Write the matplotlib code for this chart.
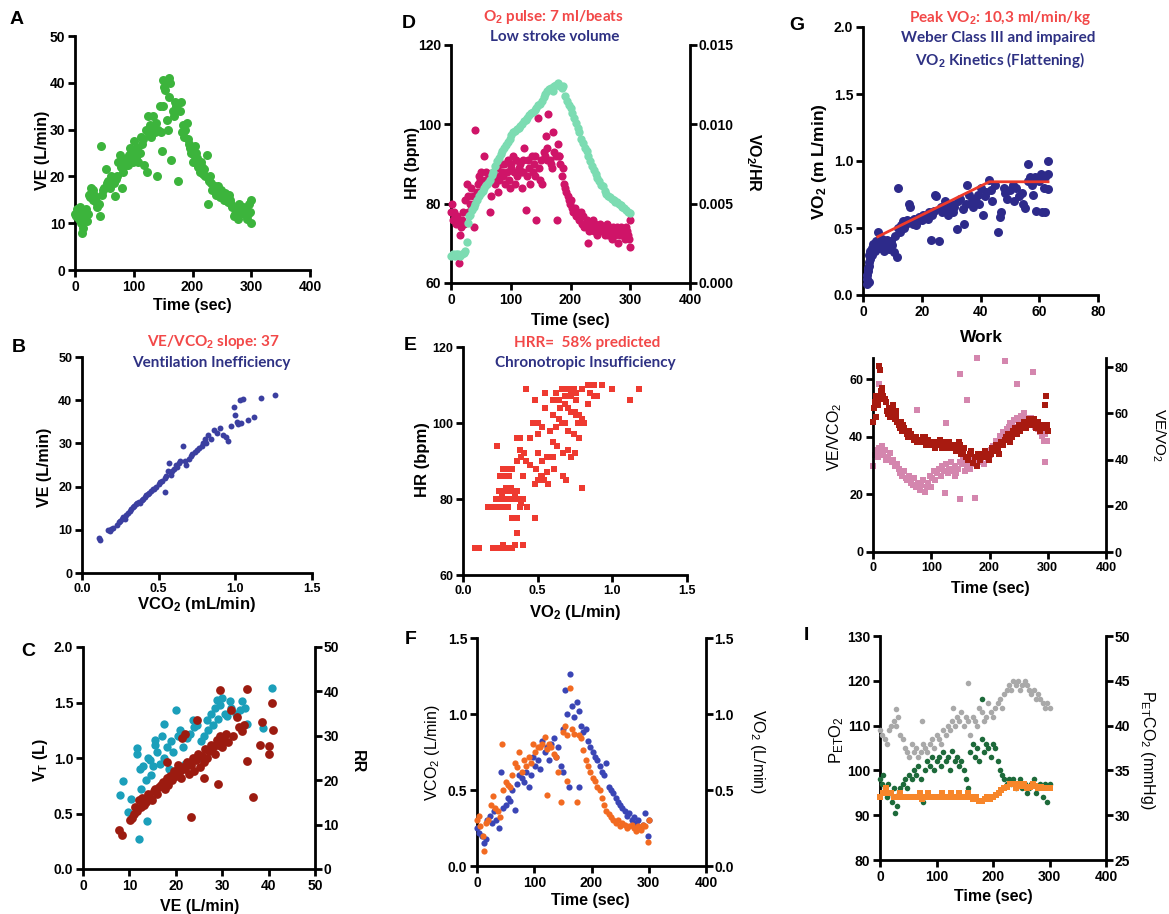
import matplotlib
matplotlib.use('Agg')
import matplotlib.pyplot as plt

# ---------------- DATA ----------------
# Panel A : VE vs time
A_time = [0, 2, 3, 5, 6, 8, 9, 11, 12, 13,
          14, 15, 17, 18, 20, 22, 24, 25, 27, 28,
          30, 31, 33, 35, 36, 38, 40, 42, 44, 46,
          48, 50, 52, 54, 56, 58, 60, 62, 64, 66,
          68, 70, 72, 74, 76, 78, 80, 82, 84, 86,
          88, 90, 92, 94, 96, 98, 100, 102, 104, 106,
          108, 110, 112, 114, 116, 118, 120, 122, 124, 126,
          128, 130, 132, 134, 136, 138, 140, 142, 144, 146,
          148, 150, 152, 154, 156, 158, 160, 162, 164, 166,
          168, 170, 172, 174, 176, 178, 180, 182, 184, 186,
          188, 190, 192, 194, 196, 198, 200, 202, 204, 206,
          208, 210, 212, 214, 216, 218, 220, 222, 224, 226,
          228, 230, 232, 234, 236, 238, 240, 242, 244, 246,
          248, 250, 252, 254, 256, 258, 260, 262, 264, 266,
          268, 270, 272, 274, 276, 278, 280, 282, 284, 286,
          288, 290, 292, 294, 296, 298, 300, 300, 150, 160]
A_ve = [12, 11.5, 13, 12, 11, 12.5, 13.5, 10, 8, 9,
        11.5, 12.5, 12, 13, 10.5, 12, 16, 15.5, 17.5, 16.5,
        15, 17, 16, 14.5, 15.5, 13.5, 14, 11.5, 26.5, 16,
        17, 17.5, 21.5, 18.5, 19, 18, 17.5, 20, 19, 18.5,
        15.8, 19.5, 20, 23, 24.5, 22, 17.5, 21, 23.5, 22.5,
        24, 22.5, 24.5, 26, 25, 23, 27.5, 25.5, 24, 26,
        23, 25, 28.5, 27, 28, 22.5, 30, 21, 33, 29,
        31, 28.5, 33, 30, 29.5, 31.5, 20, 30, 35, 29.5,
        25.5, 40.5, 39, 38.5, 32, 30, 41, 40, 23.5, 34,
        33, 36, 35, 35.5, 19, 34, 36, 29.5, 31, 28.5,
        30, 31.5, 28, 27, 26, 25, 23, 24.5, 26.5, 25,
        24, 22, 21, 23, 22, 20.5, 21.5, 20, 24.5, 14,
        19, 20, 18.5, 17, 17.5, 18, 16, 16.5, 18, 15.5,
        17, 16.5, 16, 15, 16.5, 15.5, 14.5, 16, 15, 14,
        13.5, 11.5, 12, 13, 12.5, 11, 14, 13, 12.5, 13.5,
        12, 13, 11, 12, 14, 12.5, 10, 15, 35, 37]

# Panel D : HR and O2 pulse vs time
D_time = [0, 2, 4, 5, 7, 9, 10, 12, 13, 15,
          17, 19, 20, 22, 24, 26, 28, 29, 31, 33,
          35, 37, 39, 41, 43, 45, 47, 49, 51, 53,
          55, 57, 59, 61, 63, 65, 67, 69, 71, 73,
          75, 77, 79, 81, 83, 85, 87, 89, 91, 93,
          95, 97, 99, 101, 103, 105, 107, 109, 111, 113,
          115, 117, 119, 121, 123, 125, 127, 129, 131, 133,
          135, 137, 139, 141, 143, 145, 147, 149, 151, 153,
          155, 157, 159, 161, 163, 165, 167, 169, 171, 173,
          175, 177, 179, 181, 183, 185, 187, 189, 191, 193,
          195, 197, 199, 201, 203, 205, 207, 209, 211, 213,
          215, 217, 219, 221, 223, 225, 227, 229, 231, 233,
          235, 237, 239, 241, 243, 245, 247, 249, 251, 253,
          255, 257, 259, 261, 263, 265, 267, 269, 271, 273,
          275, 277, 279, 281, 283, 285, 287, 289, 291, 293,
          295, 297, 299, 300, 298, 100, 120, 140, 160, 180]
D_hr = [78, 80, 76, 78, 77, 75, 77, 76, 65, 72,
        74, 76, 78, 75, 81, 85, 82, 78, 80, 84,
        79, 82, 74, 98.5, 83, 85, 87, 86, 88, 84,
        92, 86, 88, 85, 87, 78, 82, 86, 88, 85,
        87, 89, 83, 86, 90, 88, 87, 90, 85, 88,
        91, 86, 84, 89, 92, 88, 85, 91, 87, 89,
        90, 88, 84, 91, 94, 78.5, 87, 91, 89, 85,
        92, 88, 90, 87, 75.8, 101.5, 89, 86, 91, 85,
        93, 92, 97, 94, 102.5, 91, 90, 89, 98, 93,
        92, 75.8, 95, 92, 90, 87, 89, 85, 84, 83,
        82, 81, 80, 81, 79, 78, 79, 77, 78, 77,
        76, 78, 75, 77, 74, 75, 76, 70, 73, 75,
        74, 76, 73, 75, 74, 72, 73, 75, 74, 73,
        74, 72, 73, 75, 72, 74, 73, 71, 74, 73,
        72, 74, 70, 73, 72, 74, 73, 72, 71, 74,
        73, 72, 76, 69, 71, 90, 88, 92, 91, 92]
D2_time = [0, 3, 6, 9, 12, 15, 18, 21, 24, 26,
           28, 30, 32, 35, 38, 41, 44, 47, 50, 53,
           56, 59, 62, 65, 68, 71, 74, 77, 80, 83,
           86, 89, 92, 95, 98, 101, 104, 107, 110, 113,
           116, 119, 122, 125, 128, 131, 134, 137, 140, 143,
           146, 149, 152, 155, 158, 161, 164, 167, 170, 173,
           176, 179, 182, 185, 188, 191, 194, 197, 200, 203,
           206, 209, 212, 215, 218, 221, 224, 227, 230, 233,
           236, 239, 242, 245, 248, 251, 254, 257, 260, 263,
           266, 269, 272, 275, 278, 281, 284, 287, 290, 293,
           296, 299]
D2_pulse = [0.0017, 0.0018, 0.0017, 0.0018, 0.0018, 0.0017, 0.0018, 0.0019, 0.0020, 0.0026,
            0.0038, 0.0042, 0.0043, 0.0046, 0.0048, 0.0050, 0.0052, 0.0055, 0.0057, 0.0058,
            0.0060, 0.0062, 0.0063, 0.0065, 0.0068, 0.0070, 0.0074, 0.0077, 0.0079, 0.0081,
            0.0083, 0.0085, 0.0087, 0.0089, 0.0091, 0.0093, 0.0095, 0.0096, 0.0097, 0.0098,
            0.0099, 0.0100, 0.0102, 0.0103, 0.0104, 0.0106, 0.0107, 0.0108, 0.0109, 0.0110,
            0.0112, 0.0113, 0.0115, 0.0117, 0.0119, 0.0121, 0.0122, 0.0123, 0.0121, 0.0124,
            0.0125, 0.0126, 0.0124, 0.0123, 0.0124, 0.0118, 0.0115, 0.0112, 0.0110, 0.0107,
            0.0104, 0.0101, 0.0098, 0.0095, 0.0091, 0.0088, 0.0085, 0.0083, 0.0080, 0.0077,
            0.0074, 0.0071, 0.0069, 0.0066, 0.0064, 0.0062, 0.0061, 0.0058, 0.0056, 0.0055,
            0.0054, 0.0053, 0.0052, 0.0051, 0.0051, 0.0050, 0.0049, 0.0048, 0.0047, 0.0046,
            0.0045, 0.0044]

# Panel G : VO2 vs work
G_work = [1.5, 1.5, 1.8, 2, 2, 2.2, 2.5, 2.5, 3, 3,
          3.5, 4, 4, 4.5, 5, 5, 5.5, 6, 6.5, 7,
          7, 7.5, 8, 8.5, 9, 9.5, 10, 10.5, 11, 11.5,
          12, 12, 12.5, 13, 13.5, 14, 14.5, 15, 15.5, 16,
          16.5, 17, 17.5, 18, 18.5, 19, 20, 20.5, 21, 22,
          22.5, 23, 23.5, 24, 24.5, 25, 26, 26.5, 27, 28,
          28.5, 29, 30, 30.5, 31, 32, 32.5, 33, 34, 34.5,
          35, 35.5, 36, 37, 37.5, 38, 39, 39.5, 40, 41,
          41.5, 42, 43, 43.5, 44, 45, 46, 46.5, 47, 48,
          48.5, 49, 50, 51, 51.5, 52, 53, 54, 54.5, 55,
          56, 56, 57, 57.5, 58, 58.5, 59, 60, 60.5, 61,
          61.5, 62, 62, 63, 63, 63, 1.5, 2, 2.5, 1.8]
G_vo2 = [0.08, 0.12, 0.2, 0.25, 0.3, 0.22, 0.33, 0.27, 0.35, 0.3,
         0.38, 0.36, 0.33, 0.4, 0.47, 0.37, 0.35, 0.39, 0.42, 0.36,
         0.33, 0.38, 0.41, 0.36, 0.34, 0.4, 0.37, 0.32, 0.44, 0.28,
         0.8, 0.5, 0.47, 0.52, 0.55, 0.5, 0.53, 0.56, 0.68, 0.66,
         0.55, 0.53, 0.57, 0.52, 0.55, 0.58, 0.56, 0.6, 0.58, 0.57,
         0.62, 0.41, 0.6, 0.63, 0.75, 0.74, 0.4, 0.66, 0.62, 0.7,
         0.64, 0.6, 0.68, 0.62, 0.66, 0.49, 0.7, 0.72, 0.64, 0.53,
         0.68, 0.82, 0.75, 0.7, 0.66, 0.72, 0.75, 0.68, 0.8, 0.6,
         0.74, 0.77, 0.86, 0.78, 0.7, 0.82, 0.47, 0.58, 0.62, 0.8,
         0.76, 0.72, 0.78, 0.82, 0.7, 0.8, 0.74, 0.76, 0.68, 0.65,
         0.98, 0.85, 0.88, 0.82, 0.75, 0.88, 0.63, 0.85, 0.9, 0.62,
         0.8, 0.88, 0.62, 0.9, 0.79, 1.0, 0.15, 0.1, 0.3, 0.18]
G_fit_work = [5, 43, 63]
G_fit_vo2 = [0.435, 0.845, 0.845]

# Panel B : VE vs VCO2
B_vco2 = [0.11, 0.12, 0.17, 0.18, 0.19, 0.2, 0.23, 0.24, 0.25, 0.26,
          0.27, 0.28, 0.29, 0.3, 0.31, 0.32, 0.33, 0.34, 0.35, 0.36,
          0.37, 0.38, 0.39, 0.4, 0.41, 0.42, 0.43, 0.44, 0.45, 0.46,
          0.47, 0.48, 0.5, 0.51, 0.52, 0.54, 0.55, 0.56, 0.57, 0.58,
          0.59, 0.6, 0.61, 0.62, 0.63, 0.64, 0.66, 0.67, 0.68, 0.7,
          0.71, 0.72, 0.74, 0.75, 0.76, 0.78, 0.79, 0.8, 0.81, 0.82,
          0.84, 0.86, 0.88, 0.9, 0.92, 0.94, 0.95, 0.97, 0.99, 1.0,
          1.01, 1.02, 1.03, 1.04, 1.05, 1.08, 1.12, 1.17, 1.26, 0.54]
B_ve = [8.1, 7.6, 10, 9.8, 10.3, 10.5, 11, 11.8, 12, 12.5,
        13, 12.6, 13.5, 14, 14.3, 14.8, 15.2, 15.5, 16, 16.3,
        16.5, 16.2, 17, 17.2, 17.5, 18, 18.3, 18.6, 19, 19.4,
        19.5, 20, 20.5, 21, 21.3, 22, 22.5, 23.5, 25.5, 22.8,
        23.5, 24, 25, 24.5, 25.5, 26, 29.3, 26, 25, 26.5,
        27, 27.5, 28, 28.5, 29, 29.5, 30, 31, 30, 32,
        31, 33, 32.5, 33.5, 32, 31.5, 30.5, 34, 38.5, 36.5,
        35, 34.5, 40, 34.8, 40.2, 35.5, 36.2, 40.6, 41.1, 18.8]

# Panel E : HR vs VO2
E_vo2 = [0.08, 0.11, 0.2, 0.22, 0.25, 0.28, 0.3, 0.33, 0.27, 0.35,
         0.4, 0.36, 0.33, 0.36, 0.48, 0.17, 0.2, 0.23, 0.26, 0.3,
         0.38, 0.43, 0.22, 0.25, 0.28, 0.31, 0.34, 0.37, 0.4, 0.24,
         0.27, 0.3, 0.33, 0.36, 0.29, 0.32, 0.26, 0.35, 0.39, 0.8,
         0.25, 0.28, 0.31, 0.27, 0.3, 0.33, 0.4, 0.48, 0.5, 0.52,
         0.54, 0.56, 0.49, 0.53, 0.57, 0.61, 0.67, 0.69, 0.36, 0.39,
         0.41, 0.45, 0.38, 0.42, 0.5, 0.53, 0.56, 0.6, 0.23, 0.36,
         0.38, 0.45, 0.5, 0.6, 0.63, 0.67, 0.7, 0.72, 0.78, 0.75,
         0.47, 0.5, 0.53, 0.58, 0.62, 0.66, 0.7, 0.74, 0.77, 0.81,
         0.6, 0.64, 0.68, 0.72, 0.76, 0.8, 0.65, 0.7, 0.75, 0.78,
         0.55, 0.6, 0.64, 0.68, 0.72, 0.76, 0.84, 0.88, 0.42, 0.48,
         0.55, 0.62, 0.68, 0.72, 0.76, 0.8, 0.85, 0.9, 1.0, 1.12,
         0.42, 0.66, 0.7, 0.74, 0.8, 0.84, 0.88, 0.93, 1.0, 1.18]
E_hr = [67, 67, 67, 67, 67, 67, 67, 67, 68, 68,
        68, 71, 75, 75, 75, 78, 78, 78, 78, 78,
        78, 78, 80, 80, 80, 80, 80, 80, 80, 82,
        82, 82, 82, 82, 83, 83, 81, 81, 79, 83,
        86, 86, 86, 88, 88, 88, 86, 84, 85, 86,
        85, 87, 88, 86, 84, 88, 86, 85, 90, 91,
        92, 89, 93, 90, 92, 90, 91, 91, 94, 96,
        96, 96, 97, 95, 94, 92, 93, 91, 96, 92,
        100, 100, 99, 98, 99, 100, 98, 97, 100, 100,
        102, 101, 100, 103, 102, 101, 104, 104, 103, 102,
        104, 106, 106, 105, 107, 106, 105, 107, 109, 106,
        108, 108, 107, 108, 108, 109, 108, 107, 109, 106,
        109, 109, 109, 109, 109, 110, 110, 110, 109, 109]

# Panel H : VE/VCO2 (left) and VE/VO2 (right) vs time
H1_time = [0, 2, 3, 5, 6, 8, 10, 11, 12, 13,
           15, 16, 18, 20, 22, 24, 26, 28, 30, 32,
           34, 36, 38, 40, 42, 44, 46, 48, 50, 52,
           54, 56, 58, 60, 62, 65, 68, 70, 73, 76,
           79, 82, 85, 88, 91, 94, 97, 100, 103, 106,
           109, 112, 115, 118, 121, 124, 127, 130, 133, 136,
           139, 142, 145, 148, 151, 154, 157, 160, 163, 166,
           169, 172, 175, 178, 181, 184, 187, 190, 193, 196,
           199, 202, 205, 208, 211, 214, 217, 220, 223, 226,
           229, 232, 235, 238, 241, 244, 247, 250, 253, 256,
           259, 262, 265, 268, 271, 274, 277, 280, 283, 286,
           289, 292, 295, 297, 298, 300, 40, 90, 130, 150]
H1_vevco2 = [45, 50, 52, 47, 54, 51, 53, 64.5, 63, 56,
             57, 55, 54, 53, 52, 49, 48, 50, 47, 48,
             51, 49, 46, 47, 45, 44, 43, 45, 42, 44,
             43, 42, 41, 40, 42, 41, 40, 39, 40, 38,
             39, 38, 40, 38, 37, 39, 38, 37, 38, 36,
             38, 37, 39, 36, 38, 37, 36, 38, 37, 36,
             37, 35, 36, 38, 34, 35, 36, 33, 32, 34,
             35, 31, 33, 30, 34, 32, 34, 33, 35, 34,
             32, 34, 36, 35, 37, 36, 34, 38, 37, 39,
             40, 41, 38, 40, 42, 43, 41, 44, 42, 43,
             45, 43, 44, 46, 45, 44, 46, 43, 45, 42,
             44, 43, 51, 54, 44, 42, 49, 40, 38, 37]
H2_time = [0, 3, 5, 8, 10, 13, 15, 18, 20, 23,
           26, 29, 32, 35, 38, 41, 44, 47, 50, 53,
           56, 59, 62, 65, 68, 71, 74, 77, 80, 83,
           86, 89, 92, 95, 98, 101, 104, 107, 110, 113,
           116, 119, 122, 125, 128, 131, 134, 137, 140, 143,
           146, 149, 152, 155, 158, 161, 164, 167, 170, 173,
           176, 179, 182, 185, 188, 191, 194, 197, 200, 203,
           206, 209, 212, 215, 218, 221, 224, 227, 230, 233,
           236, 239, 242, 245, 248, 251, 254, 257, 260, 263,
           266, 269, 272, 275, 278, 281, 284, 287, 290, 293,
           296, 299, 149, 227, 275, 247, 161, 75, 125, 149,
           175, 123, 296, 11, 178, 100, 140, 60]
H2_vevo2 = [37, 42, 44, 41, 45, 43, 46, 42, 44, 40,
            41, 43, 39, 40, 37, 38, 36, 34, 33, 35,
            32, 31, 33, 30, 29, 32, 28, 30, 27, 29,
            31, 26, 28, 30, 33, 32, 35, 31, 34, 36,
            33, 37, 35, 38, 34, 36, 39, 35, 37, 34,
            36, 39, 38, 40, 35, 37, 41, 36, 39, 38,
            40, 37, 42, 39, 41, 38, 43, 40, 42, 44,
            46, 45, 48, 47, 50, 49, 52, 51, 53, 54,
            56, 55, 57, 54, 58, 56, 59, 57, 60, 58,
            57, 55, 58, 56, 54, 55, 53, 52, 50, 48,
            51, 48, 77, 82.5, 77.8, 72.8, 65.6, 61.3, 55.9, 22.8,
            23.3, 25.7, 39, 72.8, 84, 28, 33, 32]

# Panel C : VT (left) and RR (right) vs VE
C_ve_vt = [8, 8.6, 9.8, 10.3, 11.6, 11.7, 12, 12.5, 13, 13.5,
           13.8, 14, 14.5, 15, 15.5, 15.6, 16, 16.5, 17, 17.4,
           17.5, 18, 18.5, 19, 19.5, 20.1, 20.5, 20.9, 21.5, 22,
           22.5, 23, 23.8, 24, 24.5, 25, 25.5, 26, 26.7, 27,
           27.5, 28, 28.5, 28.8, 29, 29.5, 29.9, 30.5, 31, 31.7,
           32, 33, 33.9, 34.2, 35, 35.3, 38.7, 40.7, 12.2, 14.7]
C_vt = [0.67, 0.79, 0.51, 0.63, 1.04, 1.09, 0.27, 0.72, 0.93, 0.8,
        0.43, 1.0, 0.98, 0.93, 1.12, 1.16, 1.05, 0.95, 1.2, 1.31,
        1.0, 1.1, 0.9, 1.15, 1.05, 1.43, 1.2, 1.25, 1.1, 0.95,
        1.18, 1.22, 1.34, 1.28, 1.3, 1.0, 1.15, 1.2, 1.34, 1.25,
        1.4, 1.3, 1.45, 1.52, 1.35, 1.48, 1.54, 1.4, 1.38, 1.51,
        1.45, 1.4, 1.43, 1.51, 1.45, 1.31, 1.27, 1.63, 0.9, 0.85]
C_ve_rr = [7.7, 8.4, 10.2, 10.5, 11, 11.3, 11.6, 12, 12.4, 12.8,
           13.2, 13.6, 14, 14.4, 14.8, 15.2, 15.6, 16, 16.4, 16.8,
           17.2, 17.6, 18, 18.4, 18.8, 19.2, 19.6, 20, 20.4, 20.8,
           21.2, 21.6, 22, 22.4, 22.8, 23.2, 23.6, 24, 24.4, 24.8,
           25.2, 25.6, 26, 26.4, 26.8, 27.2, 27.6, 28, 28.4, 28.8,
           29.2, 29.6, 30, 30.4, 30.8, 31.2, 31.9, 32.4, 33.1, 33.6,
           34.2, 34.8, 35.3, 35.4, 36.7, 38.2, 38.5, 40, 40.7, 41,
           23.2, 29.2, 22, 24.5, 21.3, 29.6, 40, 18, 26, 13]
C_rr = [8.7, 7.7, 11.1, 11.5, 12.5, 14, 13, 15.5, 14, 16,
        14.5, 15, 17, 16, 15.5, 17.5, 18, 17, 18.5, 19,
        19.5, 18, 20.5, 19, 21, 20, 22, 21, 23.5, 22,
        20.5, 23, 22.5, 24, 21.5, 23.5, 25, 22, 24.5, 26,
        23, 25.5, 24, 27, 25, 26.5, 28, 27.5, 26, 29,
        28, 30, 27.5, 29, 30.5, 28.5, 35.8, 30, 34.3, 32,
        31, 32.5, 40.6, 24.4, 16.3, 27.9, 33.2, 27.7, 37.3, 31.3,
        11.8, 19.2, 30.5, 33.5, 29.4, 40.3, 26, 24, 20.5, 15]

# Panel F : VCO2 (left) and VO2 (right) vs time
F_time_co2 = [0, 4, 8, 12, 15, 18, 22, 26, 30, 34,
              38, 42, 46, 50, 54, 58, 62, 66, 70, 74,
              78, 82, 86, 90, 94, 98, 102, 106, 110, 114,
              118, 122, 126, 130, 134, 138, 142, 146, 150, 154,
              158, 162, 166, 170, 174, 178, 182, 186, 190, 194,
              198, 202, 206, 210, 214, 218, 222, 226, 230, 234,
              238, 242, 246, 250, 254, 258, 262, 266, 270, 274,
              278, 282, 286, 290, 294, 298, 300, 150, 160, 178]
F_vco2 = [0.25, 0.22, 0.2, 0.15, 0.18, 0.3, 0.33, 0.28, 0.36, 0.3,
          0.25, 0.62, 0.38, 0.4, 0.45, 0.43, 0.5, 0.37, 0.54, 0.6,
          0.58, 0.55, 0.62, 0.52, 0.6, 0.72, 0.66, 0.7, 0.64, 0.82,
          0.75, 0.78, 0.7, 0.8, 0.84, 0.72, 0.78, 0.66, 0.9, 1.16,
          1.0, 1.26, 1.05, 0.98, 1.08, 1.02, 0.92, 0.88, 0.9, 0.82,
          0.78, 0.75, 0.72, 0.7, 0.66, 0.62, 0.6, 0.68, 0.52, 0.5,
          0.48, 0.45, 0.42, 0.4, 0.38, 0.36, 0.33, 0.35, 0.3, 0.32,
          0.28, 0.3, 0.25, 0.27, 0.35, 0.2, 0.3, 0.62, 0.52, 0.52]
F_time_o2 = [0, 3, 6, 10, 13, 16, 20, 24, 28, 32,
             36, 40, 43, 46, 50, 54, 58, 62, 66, 70,
             74, 78, 82, 86, 90, 94, 98, 102, 106, 110,
             114, 118, 122, 126, 130, 134, 138, 142, 146, 150,
             154, 158, 162, 166, 170, 174, 178, 182, 186, 190,
             194, 198, 202, 206, 210, 214, 218, 222, 226, 230,
             234, 238, 242, 246, 250, 254, 258, 262, 266, 270,
             274, 278, 282, 286, 290, 294, 298, 300, 122, 158]
F_vo2 = [0.3, 0.33, 0.26, 0.2, 0.1, 0.28, 0.3, 0.4, 0.46, 0.38,
         0.36, 0.32, 0.8, 0.5, 0.55, 0.53, 0.52, 0.6, 0.68, 0.65,
         0.75, 0.62, 0.7, 0.66, 0.72, 0.68, 0.8, 0.75, 0.78, 0.78,
         0.8, 0.85, 0.77, 0.8, 0.78, 0.74, 0.72, 0.62, 0.42, 0.88,
         0.92, 0.86, 1.17, 0.9, 0.87, 0.42, 0.86, 0.84, 0.76, 0.7,
         0.66, 0.62, 0.58, 0.56, 0.52, 0.5, 0.45, 0.4, 0.36, 0.34,
         0.32, 0.3, 0.28, 0.3, 0.26, 0.28, 0.27, 0.25, 0.26, 0.27,
         0.25, 0.23, 0.26, 0.24, 0.27, 0.26, 0.16, 0.3, 0.47, 0.56]

# Panel I : PETO2 (left) and PETCO2 (right) vs time
I_time_o2 = [0, 4, 8, 12, 16, 20, 24, 28, 32, 36,
             40, 44, 48, 52, 56, 60, 64, 68, 72, 76,
             80, 84, 88, 92, 96, 100, 104, 108, 112, 116,
             120, 124, 128, 132, 136, 140, 144, 148, 152, 156,
             160, 164, 168, 172, 176, 180, 184, 188, 192, 196,
             200, 204, 208, 212, 216, 220, 224, 228, 232, 236,
             240, 244, 248, 252, 256, 260, 264, 268, 272, 276,
             280, 284, 288, 292, 296, 300, 29, 75, 156, 130]
I_peto2 = [109, 108, 107, 106, 109, 110, 111, 110, 112, 108,
           107, 105, 104, 103, 106, 104, 105, 103, 104, 106,
           105, 104, 106, 107, 105, 108, 107, 106, 109, 108,
           110, 109, 111, 110, 112, 111, 113, 110, 112, 111,
           108, 112, 111, 110, 114, 113, 111, 112, 115, 113,
           112, 114, 115, 116, 114, 117, 118, 119, 118, 120,
           119, 120, 118, 119, 120, 119, 118, 117, 118, 116,
           117, 116, 115, 114, 115, 114, 113.8, 111, 119.5, 114]
I_time_g = [0, 3, 6, 9, 12, 15, 18, 21, 24, 27,
            30, 33, 36, 40, 44, 48, 52, 56, 60, 64,
            68, 72, 76, 80, 84, 88, 92, 96, 100, 104,
            108, 112, 116, 120, 124, 128, 132, 136, 140, 144,
            148, 152, 156, 160, 164, 168, 172, 176, 180, 184,
            188, 192, 196, 200, 204, 208, 212, 216, 220, 224,
            228, 232, 236, 240, 244, 248, 252, 256, 260, 264,
            268, 272, 276, 280, 284, 288, 292, 296, 300, 180]
I_petco2_g = [34, 33.5, 34.5, 33, 32, 33.5, 32.5, 31.5, 33, 30.2,
              31, 32.5, 33, 33.5, 34, 33, 34.5, 34, 35, 34.5,
              35.5, 34, 31.5, 35, 36, 35.5, 36.5, 35, 36, 36.5,
              35.5, 37, 36, 36.5, 35, 37.2, 36, 36.5, 35.5, 36,
              35, 34, 33, 37, 38, 36.5, 37.5, 36, 38.5, 37,
              38, 37.5, 36.5, 38, 37.5, 36, 35, 34.5, 34, 33.5,
              34, 33.5, 34, 33, 33.5, 34, 33, 33.5, 32.5, 33,
              33.5, 34, 32.5, 33, 33.5, 32, 33.5, 31.5, 33.5, 43]
I_time_or = [0, 5, 10, 15, 20, 25, 30, 35, 40, 45,
             50, 55, 60, 65, 70, 75, 80, 85, 90, 95,
             100, 105, 110, 115, 120, 125, 130, 135, 140, 145,
             150, 155, 160, 165, 170, 175, 180, 185, 190, 195,
             200, 205, 210, 215, 220, 225, 230, 235, 240, 245,
             250, 255, 260, 265, 270, 275, 280, 285, 290, 295,
             300]
I_petco2_or = [32, 32.5, 33, 32.5, 32.5, 32, 32, 32.5, 32, 32,
               32, 32, 32, 32, 32.5, 31.8, 32, 32.5, 32, 32,
               32, 32, 32.5, 32, 32, 32.5, 32, 32, 32.5, 32,
               32, 32.5, 32, 31.8, 32, 31.6, 31.6, 31.8, 32, 31.8,
               32, 32.2, 32.5, 32.8, 33, 33.2, 33.5, 33.5, 33, 33.5,
               33.3, 33.5, 33, 33.2, 33.5, 33.3, 33, 33.2, 33, 33,
               33]

# ---------------- STYLE ----------------
plt.rcParams['font.family'] = ['Liberation Sans', 'DejaVu Sans']
plt.rcParams['mathtext.fontset'] = 'custom'
plt.rcParams['mathtext.rm'] = 'Liberation Sans'
plt.rcParams['mathtext.it'] = 'Liberation Sans:italic'
plt.rcParams['mathtext.bf'] = 'Liberation Sans:bold'

W, H = 1169, 914
fig = plt.figure(figsize=(W / 100, H / 100), dpi=100)

RED_T = '#F24848'
NAVY_T = '#2E3183'
TITLE_FAM = ['Lato', 'DejaVu Sans']
TITLE_FS = 11
LW = 2.0
TICK_FS = 10


def make_ax(x0, y0, x1, y1):
    return fig.add_axes([x0 / W, 1 - y1 / H, (x1 - x0) / W, (y1 - y0) / H])


def fmt_labels(vals, fmt):
    return [fmt % v for v in vals]


def style(ax, xlim, ylim, xticks, yticks, xfmt='%d', yfmt='%d', fs=TICK_FS):
    ax.set_xlim(xlim)
    ax.set_ylim(ylim)
    ax.patch.set_visible(False)
    for k, s in ax.spines.items():
        s.set_visible(k in ('left', 'bottom'))
        s.set_linewidth(LW)
    ax.set_xticks(xticks)
    ax.set_xticklabels(fmt_labels(xticks, xfmt), fontsize=fs, fontweight='bold')
    ax.set_yticks(yticks)
    ax.set_yticklabels(fmt_labels(yticks, yfmt), fontsize=fs, fontweight='bold')
    ax.tick_params(direction='out', length=5, width=LW, pad=2)


def style_right(ax2, ylim, yticks, yfmt='%d', fs=TICK_FS):
    ax2.set_ylim(ylim)
    ax2.patch.set_visible(False)
    for k, s in ax2.spines.items():
        s.set_visible(k == 'right')
        s.set_linewidth(LW)
    ax2.set_yticks(yticks)
    ax2.set_yticklabels(fmt_labels(yticks, yfmt), fontsize=fs, fontweight='bold')
    ax2.tick_params(direction='out', length=5, width=LW, pad=1)


def T(x, y, s, size=11.5, weight='bold', color='black', rot=0, family=None):
    fig.text(x / W, 1 - y / H, s, ha='center', va='center', rotation=rot,
             fontsize=size, fontweight=weight, color=color,
             family=family if family else ['Liberation Sans', 'DejaVu Sans'])


def sc(ax, x, y, color, s=20, marker='o'):
    ax.scatter(x, y, s=s, c=color, marker=marker, linewidths=0, clip_on=False, zorder=3)


# ---------------- Panel A ----------------
axA = make_ax(75, 36, 310, 270)
style(axA, (0, 400), (0, 50), [0, 100, 200, 300, 400], [0, 10, 20, 30, 40, 50])
sc(axA, A_time, A_ve, '#3CB43C', s=42)
T(17, 20, 'A', size=14)
T(42, 150, 'VE (L/min)', rot=90)
T(192, 305, 'Time (sec)')

# ---------------- Panel D ----------------
axD = make_ax(451, 45, 690, 283)
style(axD, (0, 400), (60, 120), [0, 100, 200, 300, 400], [60, 80, 100, 120])
sc(axD, D_time, D_hr, '#CF1468', s=34)
axD2 = axD.twinx()
style_right(axD2, (0, 0.015), [0, 0.005, 0.010, 0.015], '%.3f')
sc(axD2, D2_time, D2_pulse, '#7CDCB2', s=36)
T(409, 23, 'D', size=14)
T(553, 17, r'O$_{\mathbf{2}}$ pulse: 7 ml/beats', size=TITLE_FS, color=RED_T, family=TITLE_FAM)
T(555, 37, 'Low stroke volume', size=TITLE_FS, color=NAVY_T, family=TITLE_FAM)
T(412, 163, 'HR (bpm)', rot=90)
T(753, 163, r'VO$_{\mathbf{2}}$/HR', rot=270)
T(570, 320, 'Time (sec)')

# ---------------- Panel G ----------------
axG = make_ax(863, 27, 1098, 295)
style(axG, (0, 80), (0, 2.0), [0, 20, 40, 60, 80], [0, 0.5, 1.0, 1.5, 2.0], yfmt='%.1f')
sc(axG, G_work, G_vo2, '#2D2A8A', s=42)
axG.plot(G_fit_work, G_fit_vo2, color='#EE3A2A', lw=2, zorder=4)
T(797, 25, 'G', size=14)
T(1000, 18, r'Peak VO$_{\mathbf{2}}$: 10,3 ml/min/kg', size=TITLE_FS, color=RED_T, family=TITLE_FAM)
T(998, 38, 'Weber Class III and impaired', size=TITLE_FS, color=NAVY_T, family=TITLE_FAM)
T(1000, 60, r'VO$_{\mathbf{2}}$ Kinetics (Flattening)', size=TITLE_FS, color=NAVY_T, family=TITLE_FAM)
T(820, 162, r'VO$_{\mathbf{2}}$ (m L/min)', rot=90, size=12.5)
T(981, 338, 'Work', size=12.5)

# ---------------- Panel B ----------------
axB = make_ax(82, 357, 312, 573)
style(axB, (0, 1.5), (0, 50), [0, 0.5, 1.0, 1.5], [0, 10, 20, 30, 40, 50], xfmt='%.1f', fs=9)
sc(axB, B_vco2, B_ve, '#3B3FA0', s=18)
T(19, 348, 'B', size=14)
T(213, 342, r'VE/VCO$_{\mathbf{2}}$ slope: 37', size=TITLE_FS, color=RED_T, family=TITLE_FAM)
T(211, 363, 'Ventilation Inefficiency', size=TITLE_FS, color=NAVY_T, family=TITLE_FAM)
T(45, 467, 'VE (L/min)', rot=90)
T(197, 605, r'VCO$_{\mathbf{2}}$ (mL/min)', size=12)

# ---------------- Panel E ----------------
axE = make_ax(463, 347, 687, 575)
style(axE, (0, 1.5), (60, 120), [0, 0.5, 1.0, 1.5], [60, 80, 100, 120], xfmt='%.1f', fs=9)
sc(axE, E_vo2, E_hr, '#EE3A30', s=14, marker='s')
T(410, 346, 'E', size=14)
T(587, 343, 'HRR=  58% predicted', size=TITLE_FS, color=RED_T, family=TITLE_FAM)
T(585, 363, 'Chronotropic Insufficiency', size=TITLE_FS, color=NAVY_T, family=TITLE_FAM)
T(423, 460, 'HR (bpm)', rot=90, size=12)
T(575, 612, r'VO$_{\mathbf{2}}$ (L/min)', size=12)

# ---------------- Panel H ----------------
axH = make_ax(873, 358, 1106, 552)
style(axH, (0, 400), (0, 67.3), [0, 100, 200, 300, 400], [0, 20, 40, 60], fs=9)
axH2 = axH.twinx()
style_right(axH2, (0, 83.9), [0, 20, 40, 60, 80], fs=9)
sc(axH2, H2_time, H2_vevo2, '#D486AE', s=14, marker='s')
sc(axH, H1_time, H1_vevco2, '#A81A10', s=16, marker='s')
axH.set_zorder(axH2.get_zorder() + 1)
T(835, 437, r'VE/VCO$_2$', rot=90, weight='normal')
T(1159, 435, r'VE/VO$_2$', rot=270, weight='normal', size=11)
T(990, 588, 'Time (sec)')

# ---------------- Panel C ----------------
axC = make_ax(83, 647, 315, 869)
style(axC, (0, 50), (0, 2.0), [0, 10, 20, 30, 40, 50], [0, 0.5, 1.0, 1.5, 2.0], yfmt='%.1f')
sc(axC, C_ve_vt, C_vt, '#1B9FBA', s=36)
axC2 = axC.twinx()
style_right(axC2, (0, 50), [0, 10, 20, 30, 40, 50])
sc(axC2, C_ve_rr, C_rr, '#9C1B10', s=40)
T(28, 652, 'C', size=14)
T(40, 760, r'V$_{\mathbf{T}}$ (L)', rot=90)
T(357, 762, 'RR', rot=270)
T(200, 907, 'VE (L/min)')

# ---------------- Panel F ----------------
axF = make_ax(477, 638, 706, 866)
style(axF, (0, 400), (0, 1.5), [0, 100, 200, 300, 400], [0, 0.5, 1.0, 1.5], yfmt='%.1f')
sc(axF, F_time_co2, F_vco2, '#3A45B5', s=20)
axF2 = axF.twinx()
style_right(axF2, (0, 1.5), [0, 0.5, 1.0, 1.5], '%.1f')
sc(axF2, F_time_o2, F_vo2, '#F26A21', s=20)
T(411, 639, 'F', size=14)
T(433, 753, r'VCO$_2$ (L/min)', rot=90, weight='normal')
T(757, 752, r'VO$_2$ (L/min)', rot=270, weight='normal')
T(590, 901, 'Time (sec)')

# ---------------- Panel I ----------------
axI = make_ax(880, 636, 1106, 860)
style(axI, (0, 400), (80, 130), [0, 100, 200, 300, 400], [80, 90, 100, 110, 120, 130])
sc(axI, I_time_o2, I_peto2, '#A9A9A9', s=16)
axI2 = axI.twinx()
style_right(axI2, (25, 50), [25, 30, 35, 40, 45, 50])
sc(axI2, I_time_g, I_petco2_g, '#1D6A3A', s=16)
sc(axI2, I_time_or, I_petco2_or, '#F7862A', s=16, marker='s')
T(806, 635, 'I', size=14)
T(837, 740, r'P$_{\mathrm{ET}}$O$_2$', rot=90, weight='normal', size=12)
T(1148, 750, r'P$_{\mathrm{ET}}$CO$_2$ (mmHg)', rot=270, weight='normal')
T(993, 897, 'Time (sec)')

fig.savefig('out.png', dpi=100)
